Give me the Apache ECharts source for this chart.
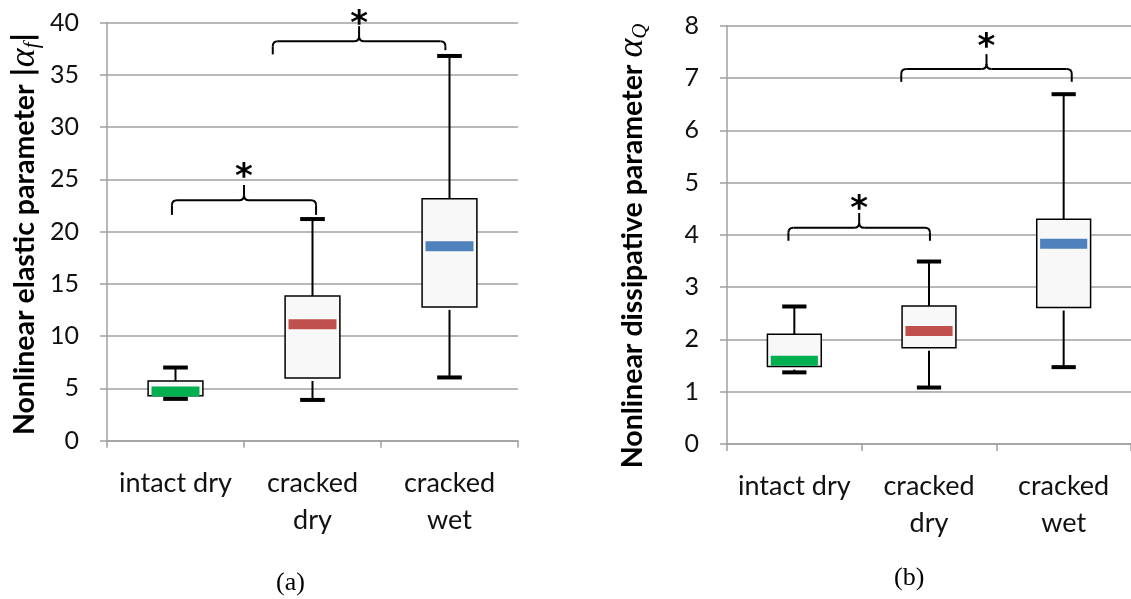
<!DOCTYPE html>
<html><head><meta charset="utf-8">
<script src="https://cdn.jsdelivr.net/npm/echarts@6/dist/echarts.min.js"></script>
<style>html,body{margin:0;padding:0;background:#fff}#c{width:1131px;height:599px}</style>
</head><body><div id="c"></div>
<script>
// ---------- data ----------
const categories = ['intact dry', 'cracked\ndry', 'cracked\nwet'];
const medianColors = ['#00b050', '#c0504d', '#4f81bd'];

// panel (a): nonlinear elastic parameter |alpha_f|
const aMin = [4.0, 3.9, 6.05];
const aQ1  = [4.3, 6.0, 12.8];
const aMed = [4.7, 11.15, 18.6];
const aQ3  = [5.7, 13.85, 23.15];
const aMax = [7.0, 21.2, 36.8];
const aTicks = { min: 0, max: 40, interval: 5 };

// panel (b): nonlinear dissipative parameter alpha_Q
const bMin = [1.37, 1.08, 1.47];
const bQ1  = [1.48, 1.84, 2.61];
const bMed = [1.59, 2.16, 3.83];
const bQ3  = [2.10, 2.64, 4.30];
const bMax = [2.63, 3.49, 6.69];
const bTicks = { min: 0, max: 8, interval: 1 };

// significance brackets: [fromCat, fromOffset, toCat, toOffset, lineY, leftEndY, rightEndY, peakY, starY]
const aBrackets = [
  [0, -0.026, 1, 0.026, 23.0, 21.6, 21.6, 24.45, 25.9],
  [1, -0.29, 2, -0.03, 38.2, 36.95, 37.35, 39.65, 40.55]
];
const bBrackets = [
  [0, -0.044, 1, 0.007, 4.136, 3.887, 3.887, 4.417, 4.63],
  [1, -0.206, 2, 0.06, 7.17, 6.927, 6.927, 7.457, 7.72]
];

// ---------- rendering ----------
const GRID_COLOR = '#a0a0a0';
const FONT = 'Lato';

function boxRender(params, api) {
  const i = api.value(0);
  const band = api.size([1, 0])[0];
  const x = api.coord([i, api.value(3)])[0];
  const yMin = api.coord([i, api.value(1)])[1];
  const yQ1 = api.coord([i, api.value(2)])[1];
  const yMed = api.coord([i, api.value(3)])[1];
  const yQ3 = api.coord([i, api.value(4)])[1];
  const yMax = api.coord([i, api.value(5)])[1];
  const bw = band * 0.4, mw = band * 0.35, cw = band * 0.18;
  return {
    type: 'group',
    children: [
      { type: 'line', shape: { x1: x, y1: yMax, x2: x, y2: yQ3 }, style: { stroke: '#000', lineWidth: 2 } },
      { type: 'line', shape: { x1: x, y1: yQ1 + 3, x2: x, y2: yMin }, style: { stroke: '#000', lineWidth: 2 } },
      { type: 'rect', shape: { x: x - cw / 2, y: yMax - 2, width: cw, height: 4 }, style: { fill: '#000' } },
      { type: 'rect', shape: { x: x - cw / 2, y: yMin - 2, width: cw, height: 4 }, style: { fill: '#000' } },
      { type: 'rect', shape: { x: x - bw / 2, y: yQ3, width: bw, height: yQ1 - yQ3 }, style: { fill: '#f8f8f8', stroke: '#000', lineWidth: 1.5 } },
      { type: 'rect', shape: { x: x - mw / 2, y: yMed - 5, width: mw, height: 10 }, style: { fill: medianColors[i] } }
    ]
  };
}

function bracketRender(params, api) {
  const band = api.size([1, 0])[0];
  const x1 = api.coord([api.value(0), 0])[0] + api.value(1) * band;
  const x2 = api.coord([api.value(2), 0])[0] + api.value(3) * band;
  const yl = api.coord([0, api.value(4)])[1];
  const yeL = api.coord([0, api.value(5)])[1];
  const yeR = api.coord([0, api.value(6)])[1];
  const yp = api.coord([0, api.value(7)])[1];
  const ys = api.coord([0, api.value(8)])[1];
  const xm = (x1 + x2) / 2;
  const r = 5;
  const st = { stroke: '#000', lineWidth: 2, fill: null };
  return {
    type: 'group',
    children: [
      { type: 'line', shape: { x1: x1, y1: yeL, x2: x1, y2: yl + r }, style: st },
      { type: 'bezierCurve', shape: { x1: x1, y1: yl + r, cpx1: x1, cpy1: yl, x2: x1 + r, y2: yl }, style: st },
      { type: 'line', shape: { x1: x1 + r, y1: yl, x2: xm - r, y2: yl }, style: st },
      { type: 'bezierCurve', shape: { x1: xm - r, y1: yl, cpx1: xm, cpy1: yl, x2: xm, y2: yl - r }, style: st },
      { type: 'line', shape: { x1: xm, y1: yl - r, x2: xm, y2: yp }, style: st },
      { type: 'bezierCurve', shape: { x1: xm, y1: yl - r, cpx1: xm, cpy1: yl, x2: xm + r, y2: yl }, style: st },
      { type: 'line', shape: { x1: xm + r, y1: yl, x2: x2 - r, y2: yl }, style: st },
      { type: 'bezierCurve', shape: { x1: x2 - r, y1: yl, cpx1: x2, cpy1: yl, x2: x2, y2: yl + r }, style: st },
      { type: 'line', shape: { x1: x2, y1: yl + r, x2: x2, y2: yeR }, style: st },
      // asterisk glyph sits high in its em box: nudge text down so the glyph centre lands on ys
      { type: 'text', x: xm, y: ys + 8, style: { text: '*', fontSize: 34, fontWeight: 'bold', fontFamily: 'DejaVu Sans', fill: '#000', align: 'center', verticalAlign: 'middle' } }
    ]
  };
}

function xAxis(gi) {
  return {
    type: 'category', gridIndex: gi, data: categories, boundaryGap: true,
    axisLine: { show: true, lineStyle: { color: GRID_COLOR, width: 1.5 } },
    axisTick: { show: true, length: 7, alignWithLabel: false, lineStyle: { color: GRID_COLOR, width: 1.5 } },
    axisLabel: { interval: 0, fontFamily: FONT, fontSize: 27, color: '#111', margin: 24, lineHeight: 37 },
    splitLine: { show: false }
  };
}
function yAxis(gi, t, name, gap, shiftPad) {
  return {
    type: 'value', gridIndex: gi, min: t.min, max: t.max, interval: t.interval,
    axisLine: { show: true, lineStyle: { color: GRID_COLOR, width: 1.5 } },
    axisTick: { show: true, length: 7, lineStyle: { color: GRID_COLOR, width: 1.5 } },
    splitLine: { show: true, lineStyle: { color: GRID_COLOR, width: 1.5 } },
    axisLabel: { fontFamily: FONT, fontSize: 25, color: '#111', margin: 28 },
    name: name, nameLocation: 'middle', nameRotate: 90, nameGap: gap,
    nameTextStyle: {
      padding: [0, shiftPad, 0, 0],
      rich: {
        b: { fontFamily: FONT, fontWeight: 'bold', fontSize: 28.5, color: '#000' },
        p: { fontFamily: 'DejaVu Sans', fontWeight: 'bold', fontSize: 28, color: '#000' },
        a: { fontFamily: 'Liberation Serif', fontStyle: 'italic', fontSize: 36, color: '#000' },
        s: { fontFamily: 'Liberation Serif', fontStyle: 'italic', fontSize: 21, color: '#000', verticalAlign: 'bottom', padding: [10, 0, 0, 0] }
      }
    }
  };
}

function boxData(mn, q1, md, q3, mx) {
  return categories.map((c, i) => [i, mn[i], q1[i], md[i], q3[i], mx[i]]);
}

const chart = echarts.init(document.getElementById('c'));
chart.setOption({
  animation: false,
  backgroundColor: '#fff',
  grid: [
    { left: 107, top: 22.5, width: 411, height: 418.2 },
    { left: 727, top: 25.7, width: 408, height: 418.3 }
  ],
  xAxis: [xAxis(0), xAxis(1)],
  yAxis: [
    yAxis(0, aTicks, '{b|Nonlinear elastic parameter }{p||}{a|α}{s|f}{p||}', 64, 4),
    yAxis(1, bTicks, '{b|Nonlinear dissipative parameter }{a|α}{s|Q}', 76, 22)
  ],
  series: [
    { type: 'custom', xAxisIndex: 0, yAxisIndex: 0, renderItem: boxRender, encode: { x: 0, y: [1, 2, 3, 4, 5] }, data: boxData(aMin, aQ1, aMed, aQ3, aMax), z: 3 },
    { type: 'custom', xAxisIndex: 1, yAxisIndex: 1, renderItem: boxRender, encode: { x: 0, y: [1, 2, 3, 4, 5] }, data: boxData(bMin, bQ1, bMed, bQ3, bMax), z: 3 },
    { type: 'custom', xAxisIndex: 0, yAxisIndex: 0, renderItem: bracketRender, encode: { x: [0, 2], y: 4 }, data: aBrackets, clip: false, z: 4 },
    { type: 'custom', xAxisIndex: 1, yAxisIndex: 1, renderItem: bracketRender, encode: { x: [0, 2], y: 4 }, data: bBrackets, clip: false, z: 4 }
  ],
  graphic: [
    { type: 'text', left: 276, top: 570, style: { text: '(a)', fontFamily: 'Liberation Serif', fontSize: 26, fill: '#000' } },
    { type: 'text', left: 894, top: 565, style: { text: '(b)', fontFamily: 'Liberation Serif', fontSize: 26, fill: '#000' } }
  ]
});
</script>
</body></html>
